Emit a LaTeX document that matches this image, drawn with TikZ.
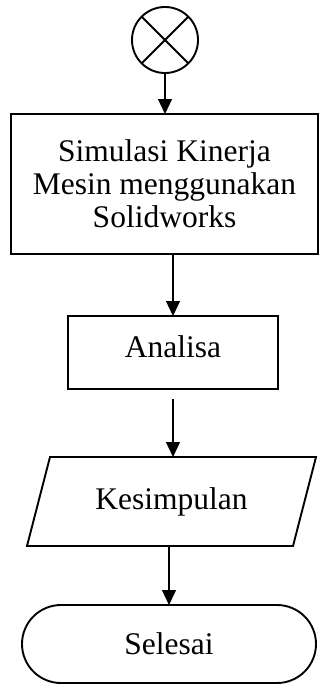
\documentclass[tikz,border=0pt]{standalone}
\usepackage{fontspec}
\setmainfont{Liberation Serif}
\usetikzlibrary{shapes.geometric,shapes.misc,arrows.meta}
\begin{document}
\begin{tikzpicture}[x=1pt,y=-1pt,
  box/.style={draw, line width=1.9pt, inner sep=0pt, outer sep=0pt,
    font=\fontsize{31.5}{33}\selectfont, align=center},
  arr/.style={line width=1.2pt, -{Triangle[width=14pt,length=15pt]}}]
\useasboundingbox (0,0) rectangle (320,685);
\node[draw, circle, line width=1.9pt, minimum size=66pt, inner sep=0pt, outer sep=0pt] (start) at (165,40) {};
\draw[line width=1.9pt] (start.45) -- (start.225) (start.135) -- (start.315);
\node[box, line width=2.4pt, minimum width=307pt, minimum height=140pt] (sim) at (164.5,184)
  {Simulasi Kinerja\\Mesin menggunakan\\Solidworks};
\node[box, minimum width=210pt, minimum height=73pt, text height=21.5pt, text depth=12.5pt] (ana) at (173,352.5) {Analisa};
\node[box, draw=none, minimum width=266pt, minimum height=89pt] (kes) at (171.5,501.5) {Kesimpulan};
\draw[line width=1.9pt, line join=miter] ([xshift=11.5pt]kes.north west) -- ([xshift=11.5pt]kes.north east)
  -- ([xshift=-11.5pt]kes.south east) -- ([xshift=-11.5pt]kes.south west) -- cycle;
\node[box, rounded rectangle, minimum width=294pt, minimum height=78pt] (end) at (169,644) {Selesai};
\draw[arr] (start.south) -- (sim.north -| start.south);
\draw[arr] (ana.north |- sim.south) -- (ana.north);
\draw[arr] ([yshift=-10pt]ana.south) -- (ana.south |- kes.north);
\draw[arr] (end.north |- kes.south) -- (end.north);
\end{tikzpicture}
\end{document}
